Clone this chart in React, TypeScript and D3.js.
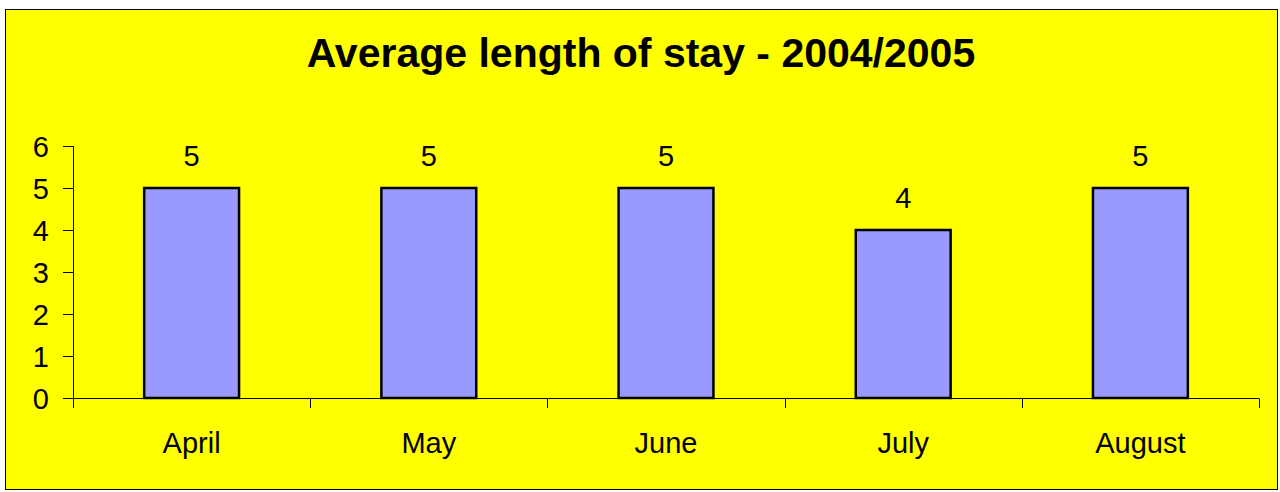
import React, { useEffect, useRef } from 'react';
import * as d3 from 'd3';

const months = ['April', 'May', 'June', 'July', 'August'];
const stayValues = [5, 5, 5, 4, 5];
const yTicks = [0, 1, 2, 3, 4, 5, 6];
const chartTitle = 'Average length of stay - 2004/2005';

export default function App() {
  const ref = useRef<SVGSVGElement>(null);

  useEffect(() => {
    if (!ref.current) return;
    const width = 1280;
    const height = 492;
    const font = 'Arial, "Liberation Sans", sans-serif';

    const svg = d3.select(ref.current);
    svg.selectAll('*').remove();

    // page backdrop + chart frame
    svg.append('rect').attr('width', width).attr('height', height).attr('fill', '#ffffff');
    svg.append('rect')
      .attr('x', 5.5).attr('y', 9.5)
      .attr('width', 1272).attr('height', 480)
      .attr('fill', '#ffff00')
      .attr('stroke', '#000')
      .attr('stroke-width', 1);

    svg.append('text')
      .attr('x', 641)
      .attr('y', 67)
      .attr('text-anchor', 'middle')
      .attr('font-family', font)
      .attr('font-weight', 'bold')
      .attr('font-size', 41)
      .text(chartTitle);

    const x = d3.scaleBand<string>()
      .domain(months)
      .range([73, 1259])
      .paddingInner(0)
      .paddingOuter(0);

    const y = d3.scaleLinear().domain([0, 6]).range([398, 146]);

    const g = svg.append('g');

    // y axis
    g.append('line')
      .attr('x1', 73.5).attr('x2', 73.5)
      .attr('y1', y(6)).attr('y2', y(0) + 9)
      .attr('stroke', '#000');
    yTicks.forEach(t => {
      g.append('line')
        .attr('x1', 63).attr('x2', 73.5)
        .attr('y1', Math.round(y(t)) + 0.5).attr('y2', Math.round(y(t)) + 0.5)
        .attr('stroke', '#000');
      g.append('text')
        .attr('x', 49)
        .attr('y', y(t) + 10.5)
        .attr('text-anchor', 'end')
        .attr('font-family', font)
        .attr('font-size', 29)
        .text(t);
    });

    // bars
    const bw = x.bandwidth() * 0.4;
    months.forEach((m, i) => {
      const cx = (x(m) as number) + x.bandwidth() / 2;
      g.append('rect')
        .attr('x', cx - bw / 2)
        .attr('y', y(stayValues[i]))
        .attr('width', bw)
        .attr('height', y(0) - y(stayValues[i]))
        .attr('fill', '#9999ff')
        .attr('stroke', '#000')
        .attr('stroke-width', 2.5);
      g.append('text')
        .attr('x', cx)
        .attr('y', y(stayValues[i]) - 22)
        .attr('text-anchor', 'middle')
        .attr('font-family', font)
        .attr('font-size', 29)
        .text(stayValues[i]);
      g.append('text')
        .attr('x', cx)
        .attr('y', 453)
        .attr('text-anchor', 'middle')
        .attr('font-family', font)
        .attr('font-size', 29)
        .text(m);
    });

    // x axis
    g.append('line')
      .attr('x1', 73).attr('x2', 1259)
      .attr('y1', 398.5).attr('y2', 398.5)
      .attr('stroke', '#000');
    const edges = months.map(m => x(m) as number).concat([x.range()[1]]);
    edges.forEach(e => {
      g.append('line')
        .attr('x1', Math.round(e) + 0.5).attr('x2', Math.round(e) + 0.5)
        .attr('y1', 398.5).attr('y2', 408)
        .attr('stroke', '#000');
    });
  }, []);

  return (
    <div style={{ position: 'fixed', left: 0, top: 0 }}>
      <svg ref={ref} width={1280} height={492} style={{ display: 'block' }} />
    </div>
  );
}
